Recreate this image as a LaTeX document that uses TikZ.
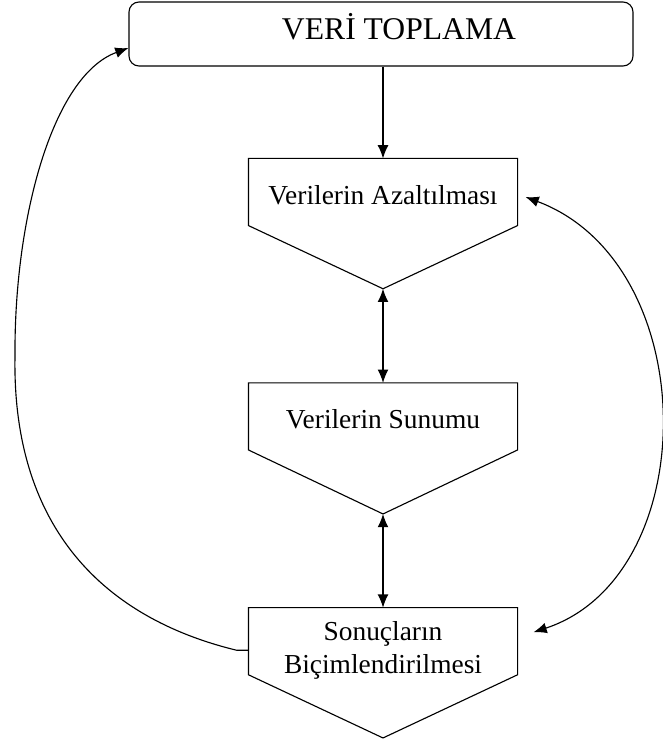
\documentclass[tikz,border=0pt]{standalone}
\usepackage{fontspec}
\setmainfont{Liberation Serif}
\usetikzlibrary{arrows.meta}

\begin{document}
\begin{tikzpicture}[x=1cm,y=1cm, line width=0.8pt, >={Latex[length=0.33cm,width=0.27cm]},
  stagebox/.style={minimum width=6.7cm, minimum height=1.65cm, inner sep=0pt, align=center, text height=17.5pt, text depth=0pt, font=\fontsize{19.5}{23.5}\selectfont}]
\useasboundingbox (0,0) rectangle (16.575,-18.625);
\node[draw, rounded corners=0.25cm, minimum width=12.6cm, minimum height=1.6cm, font=\fontsize{22.5}{26}\selectfont, text height=14pt, text depth=6pt] (top) at (9.525,-0.85) {\hspace*{0.9cm}VERİ TOPLAMA};
\node[stagebox] (az) at (9.575,-4.8) {Verilerin Azaltılması};
\node[stagebox] (su) at (9.575,-10.41) {Verilerin Sunumu};
\node[stagebox, text height=46.5pt] (so) at (9.575,-16.03) {Sonuçların\\Biçimlendirilmesi};
% pentagon outlines
\draw (az.north west) -- (az.north east) -- (az.south east) -- ([yshift=-1.58cm]az.south) coordinate (aztip) -- (az.south west) -- cycle;
\draw (su.north west) -- (su.north east) -- (su.south east) -- ([yshift=-1.6cm]su.south) coordinate (sutip) -- (su.south west) -- cycle;
\draw (so.north west) -- (so.north east) -- (so.south east) -- ([yshift=-1.58cm]so.south) coordinate (sotip) -- (so.south west) -- cycle;
% connectors
\draw[->] (az.north |- top.south) -- (az.north);
\draw[<->] (aztip) -- (su.north);
\draw[<->] (sutip) -- (so.north);
\draw[->] ([yshift=-0.225cm]so.west) -- ++(-0.3,0) .. controls (2.4,-15.4) and (0.3,-13.0) .. (0.375,-8.9) .. controls (0.35,-5.5) and (1.3,-1.9) .. ([yshift=-0.35cm]top.west);
\draw[<->] ([xshift=0.2cm,yshift=-0.125cm]az.east) .. controls (17.6,-6.6) and (17.6,-14.4) .. ([xshift=0.4cm,yshift=0.225cm]so.east);
\end{tikzpicture}
\end{document}
